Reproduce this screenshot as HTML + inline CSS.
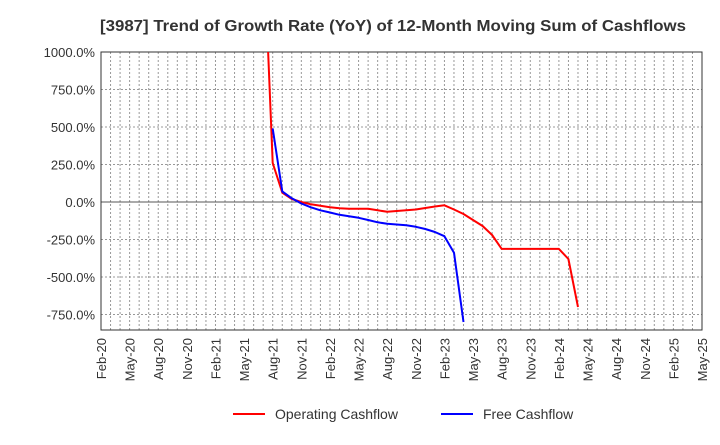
<!DOCTYPE html>
<html><head><meta charset="utf-8"><style>
body{margin:0;background:#fff;}
svg text{font-family:"Liberation Sans",Arial,sans-serif;fill:#333;}
</style></head><body>
<svg id="chart" width="720" height="440" viewBox="0 0 720 440">
<text x="393" y="31" text-anchor="middle" font-size="15.5" font-weight="bold" textLength="586" lengthAdjust="spacingAndGlyphs">[3987]  Trend of Growth Rate (YoY) of 12-Month Moving Sum of Cashflows</text>
<g id="grid"></g>
<g id="axes"></g>
<g id="series"></g>
<g>
<line x1="233" y1="414" x2="265" y2="414" stroke="#f00" stroke-width="2"/>
<text x="275" y="419" font-size="14">Operating Cashflow</text>
<line x1="441" y1="414" x2="473" y2="414" stroke="#00f" stroke-width="2"/>
<text x="483" y="419" font-size="14">Free Cashflow</text>
</g>
</svg>
<script>
const xLabels=["Feb-20","May-20","Aug-20","Nov-20","Feb-21","May-21","Aug-21","Nov-21","Feb-22","May-22","Aug-22","Nov-22","Feb-23","May-23","Aug-23","Nov-23","Feb-24","May-24","Aug-24","Nov-24","Feb-25","May-25"];
const yTicks=[1000,750,500,250,0,-250,-500,-750];
// month index from Feb-20
const opStart=17;
const opValues=[1800,260,62,20,0,-15,-25,-35,-42,-45,-45,-45,-55,-65,-60,-55,-50,-40,-30,-22,-50,-80,-120,-160,-220,-313,-313,-313,-313,-313,-313,-313,-380,-700];
const fcfStart=18;
const fcfValues=[490,70,25,-10,-35,-55,-70,-85,-95,-105,-120,-135,-145,-150,-155,-165,-180,-200,-228,-338,-800];

const L=101,R=702,T=52,B=330,NM=63;
const X=m=>L+(R-L)*m/NM;
const Y=v=>202-(v*0.15);
const NS="http://www.w3.org/2000/svg";
function mk(tag,attrs,parent){const e=document.createElementNS(NS,tag);for(const k in attrs)e.setAttribute(k,attrs[k]);parent.appendChild(e);return e;}
const grid=document.getElementById('grid'),axes=document.getElementById('axes'),series=document.getElementById('series');
for(let m=1;m<NM;m++){
  const l=mk('line',{x1:X(m),x2:X(m),y1:T,y2:B,stroke:'#999','stroke-width':1,'stroke-dasharray':'2,2'},grid);
  
  
}
yTicks.forEach(v=>{
  const y=Y(v);
  const l=mk('line',{x1:L,x2:R,y1:y,y2:y,stroke:v===0?'#555':'#999','stroke-width':1,'stroke-dasharray':v===0?'':'2,2'},grid);
  
  
  const t=mk('text',{x:L-6,y:y+5,'text-anchor':'end','font-size':13},axes);
  t.textContent=v.toFixed(1)+'%';
  
  
});
xLabels.forEach((s,i)=>{
  const x=X(i*3);
  const t=mk('text',{x:0,y:0,'text-anchor':'end','font-size':13,transform:`translate(${x+5},${B+8}) rotate(-90)`},axes);
  t.textContent=s;
  
  
});
const fr=mk('rect',{x:L,y:T,width:R-L,height:B-T,fill:'none',stroke:'#333','stroke-width':1},axes);


mk('clipPath',{id:'clip'},series).appendChild(document.createElementNS(NS,'rect'));
const cr=series.querySelector('clipPath rect');cr.setAttribute('x',L);cr.setAttribute('y',T);cr.setAttribute('width',R-L);cr.setAttribute('height',B-T);
function line(vals,start,color,name){
  const pts=vals.map((v,i)=>X(start+i).toFixed(1)+','+Y(v).toFixed(1)).join(' ');
  const p=mk('polyline',{points:pts,fill:'none',stroke:color,'stroke-width':2,'clip-path':'url(#clip)','stroke-linejoin':'round'},series);
  
  
}
line(opValues,opStart,'#f00','operating-cashflow-line');
line(fcfValues,fcfStart,'#00f','free-cashflow-line');
</script>
</body></html>
